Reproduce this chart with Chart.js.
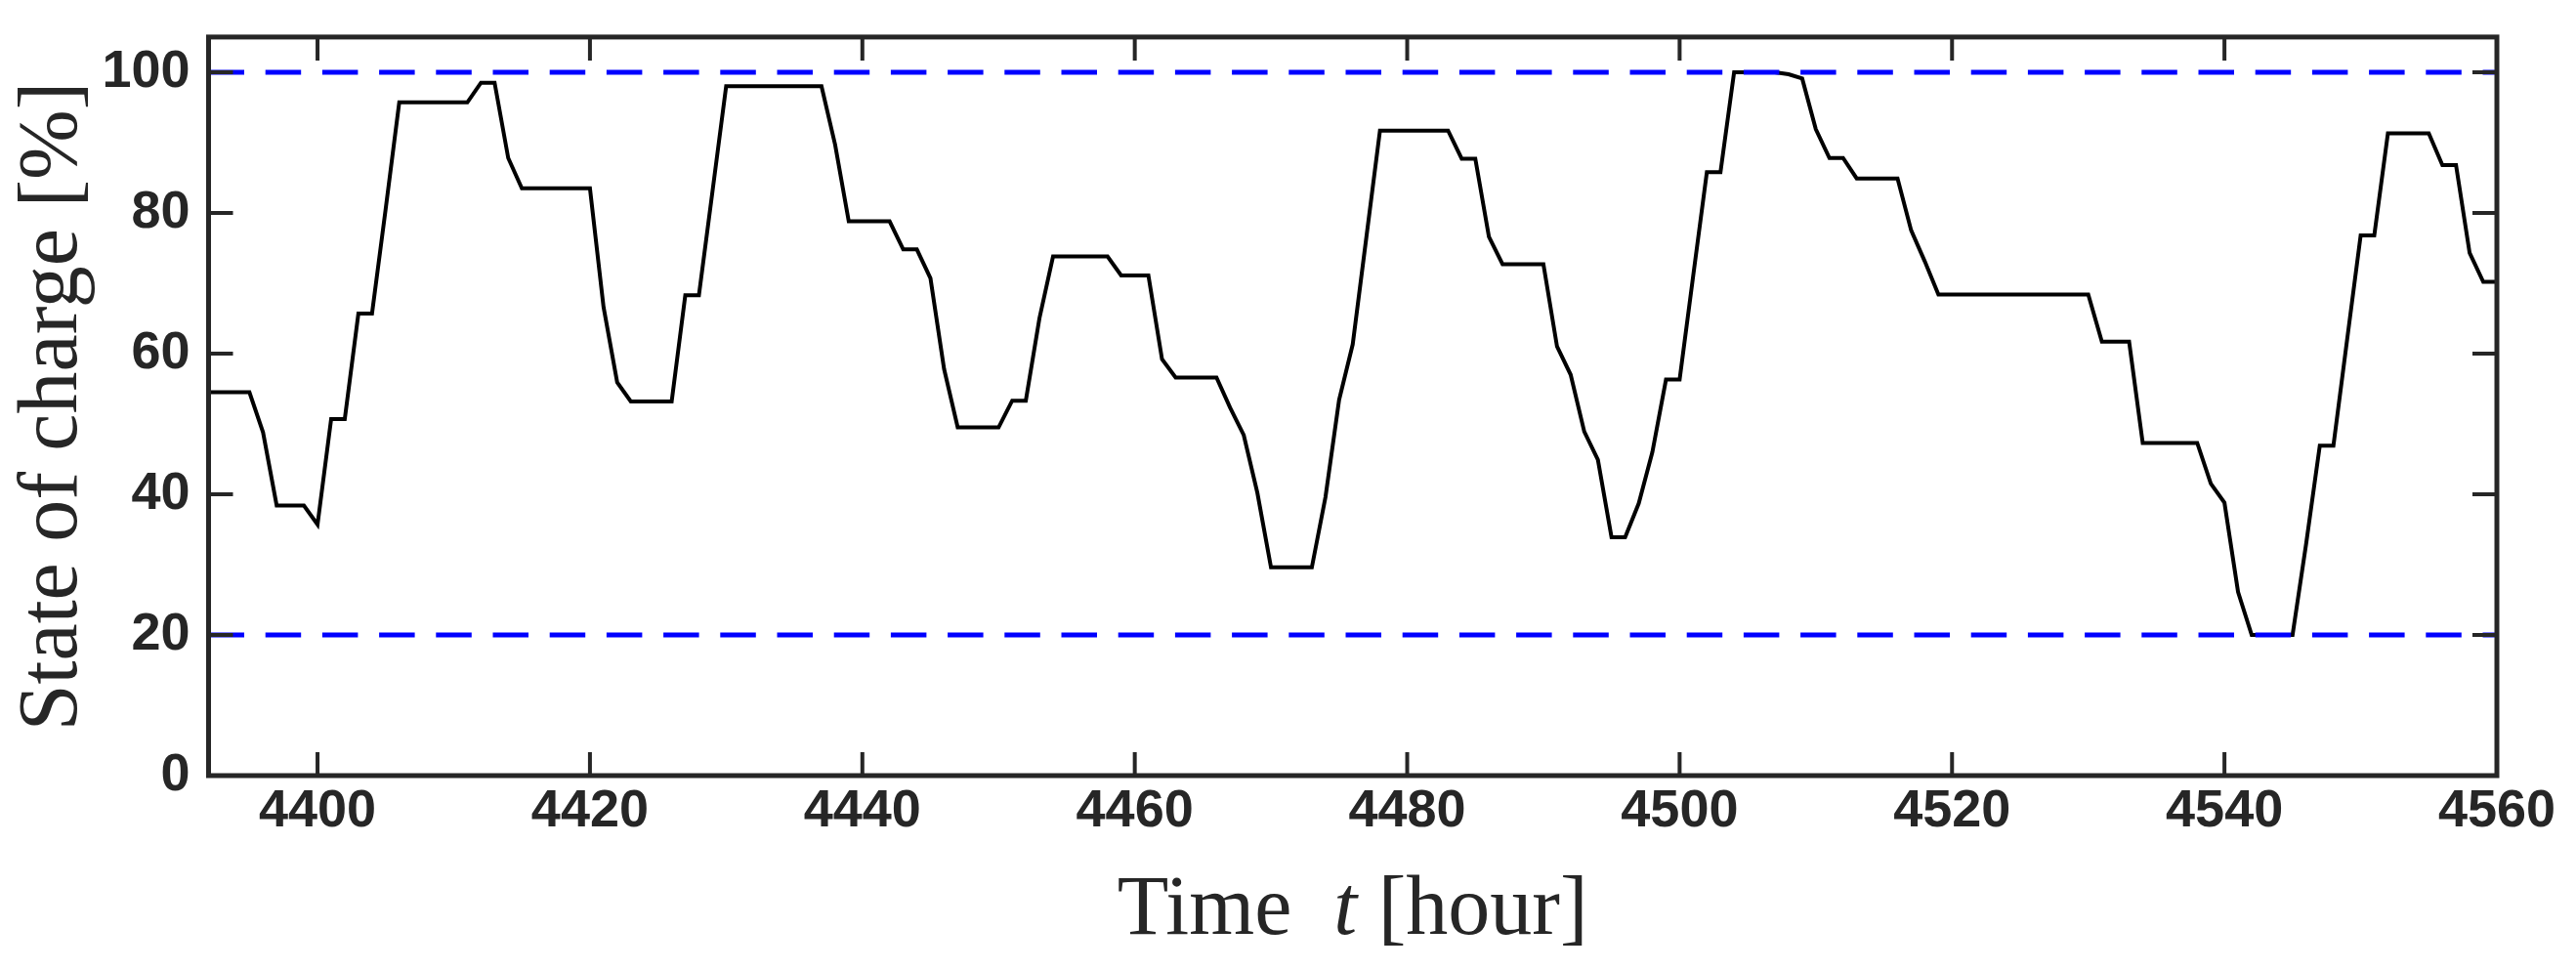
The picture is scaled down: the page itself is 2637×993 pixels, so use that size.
<!DOCTYPE html>
<html>
<head>
<meta charset="utf-8">
<title>State of charge</title>
<script src="https://cdn.jsdelivr.net/npm/chart.js@4.4.1/dist/chart.umd.min.js"></script>
<style>
  html, body { margin: 0; padding: 0; background: #fff; }
  canvas { display: block; }
</style>
</head>
<body>
<canvas id="soc" width="2637" height="993"></canvas>
<script>
// hours 4392 .. 4560, one value per hour
const startHour = 4392;
const socValues = [
  54.5, 54.5, 54.5, 54.5, 48.8, 38.4, 38.4, 38.4, 35.7, 50.7,   // 4392
  50.7, 65.7, 65.7, 80.5, 95.7, 95.7, 95.7, 95.7, 95.7, 95.7,   // 4402
  98.5, 98.5, 87.8, 83.5, 83.5, 83.5, 83.5, 83.5, 83.5, 66.6,   // 4412
  55.9, 53.2, 53.2, 53.2, 53.2, 68.3, 68.3, 83.1, 98.0, 98.0,   // 4422
  98.0, 98.0, 98.0, 98.0, 98.0, 98.0, 89.7, 78.8, 78.8, 78.8,   // 4432
  78.8, 74.8, 74.8, 70.7, 57.8, 49.5, 49.5, 49.5, 49.5, 53.3,   // 4442
  53.3, 65.0, 73.8, 73.8, 73.8, 73.8, 73.8, 71.1, 71.1, 71.1,   // 4452
  59.2, 56.6, 56.6, 56.6, 56.6, 52.3, 48.4, 40.2, 29.6, 29.6,   // 4462
  29.6, 29.6, 39.6, 53.4, 61.3, 76.5, 91.7, 91.7, 91.7, 91.7,   // 4472
  91.7, 91.7, 87.7, 87.7, 76.6, 72.7, 72.7, 72.7, 72.7, 61.0,   // 4482
  57.0, 48.9, 44.9, 33.9, 33.9, 38.7, 46.0, 56.3, 56.3, 71.1,   // 4492
  85.8, 85.8, 100, 100, 100, 100, 99.7, 99.1, 91.9, 87.8,       // 4502
  87.8, 84.9, 84.9, 84.9, 84.9, 77.5, 73.1, 68.4, 68.4, 68.4,   // 4512
  68.4, 68.4, 68.4, 68.4, 68.4, 68.4, 68.4, 68.4, 68.4, 61.7,   // 4522
  61.7, 61.7, 47.3, 47.3, 47.3, 47.3, 47.3, 41.5, 38.8, 26.1,   // 4532
  20.0, 20.0, 20.0, 20.0, 33.0, 46.9, 46.9, 61.9, 76.8, 76.8,   // 4542
  91.3, 91.3, 91.3, 91.3, 86.8, 86.8, 74.3, 70.2, 70.2          // 4552
];
const upperLimit = 100;
const lowerLimit = 20;
const xTicks = [4400, 4420, 4440, 4460, 4480, 4500, 4520, 4540, 4560];
const yTicks = [0, 20, 40, 60, 80, 100];
const xRange = [4392, 4560];
const yRange = [0, 105];

const axisColor = '#262626';
const socPoints = socValues.map((v, i) => ({ x: startHour + i, y: v }));
const limitLine = v => [{ x: xRange[0], y: v }, { x: xRange[1], y: v }];

// MATLAB style box: frame, inward ticks on all sides, serif titles
const boxPlugin = {
  id: 'box',
  afterDraw(chart) {
    const { ctx, chartArea: a, scales } = chart;
    ctx.save();
    ctx.strokeStyle = axisColor;
    ctx.lineWidth = 4;
    ctx.beginPath();
    xTicks.forEach(t => {
      const px = scales.x.getPixelForValue(t);
      ctx.moveTo(px, a.bottom); ctx.lineTo(px, a.bottom - 24);
      ctx.moveTo(px, a.top); ctx.lineTo(px, a.top + 24);
    });
    yTicks.forEach(t => {
      const py = scales.y.getPixelForValue(t);
      ctx.moveTo(a.left, py); ctx.lineTo(a.left + 25, py);
      ctx.moveTo(a.right, py); ctx.lineTo(a.right - 25, py);
    });
    ctx.stroke();
    ctx.lineWidth = 5;
    ctx.strokeRect(a.left, a.top, a.right - a.left, a.bottom - a.top);

    ctx.fillStyle = axisColor;
    ctx.textBaseline = 'alphabetic';
    // x title with italic t
    const parts = [
      { s: 'Time  ', f: '86px "Liberation Serif"' },
      { s: 't', f: 'italic 86px "Liberation Serif"' },
      { s: ' [hour]', f: '86px "Liberation Serif"' }
    ];
    let total = 0;
    parts.forEach(p => { ctx.font = p.f; p.w = ctx.measureText(p.s).width; total += p.w; });
    let x = (a.left + a.right) / 2 - total / 2;
    ctx.textAlign = 'left';
    parts.forEach(p => { ctx.font = p.f; ctx.fillText(p.s, x, 956); x += p.w; });

    // y title
    ctx.translate(78, (a.top + a.bottom) / 2);
    ctx.rotate(-Math.PI / 2);
    ctx.textAlign = 'center';
    ctx.font = '86px "Liberation Serif"';
    ctx.fillText('State of charge [%]', 0, 0);
    ctx.restore();
  }
};

const tickFont = { family: '"Liberation Sans"', size: 54, weight: 'bold', lineHeight: 0.7 };

new Chart(document.getElementById('soc'), {
  type: 'line',
  data: {
    datasets: [
      { data: limitLine(upperLimit), borderColor: '#0000ff', borderWidth: 5, borderDash: [36.5, 21.7], pointRadius: 0 },
      { data: limitLine(lowerLimit), borderColor: '#0000ff', borderWidth: 5, borderDash: [36.5, 21.7], pointRadius: 0 },
      { data: socPoints, borderColor: '#000', borderWidth: 4, pointRadius: 0, tension: 0 }
    ]
  },
  options: {
    responsive: false,
    animation: false,
    devicePixelRatio: 1,
    layout: { padding: { top: 20.7, right: 81, left: 0, bottom: 0 } },
    plugins: { legend: { display: false }, tooltip: { enabled: false } },
    scales: {
      x: {
        type: 'linear',
        min: xRange[0], max: xRange[1],
        grid: { display: false, drawTicks: false },
        border: { display: false },
        afterBuildTicks: s => { s.ticks = xTicks.map(v => ({ value: v })); },
        afterFit: s => { s.height = 199; },
        ticks: {
          padding: 18, maxRotation: 0, autoSkip: false,
          color: axisColor, font: tickFont,
          callback: v => String(v)
        }
      },
      y: {
        min: yRange[0], max: yRange[1],
        grid: { display: false, drawTicks: false },
        border: { display: false },
        afterBuildTicks: s => { s.ticks = yTicks.map(v => ({ value: v })); },
        afterFit: s => { s.width = 213.5; },
        ticks: {
          padding: 19,
          color: axisColor, font: tickFont,
          callback: v => String(v)
        }
      }
    }
  },
  plugins: [boxPlugin]
});
</script>
</body>
</html>
